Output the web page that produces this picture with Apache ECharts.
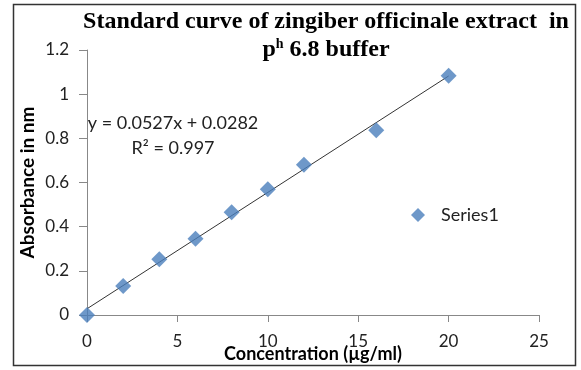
<!DOCTYPE html>
<html>
<head>
<meta charset="utf-8">
<script src="https://cdn.jsdelivr.net/npm/echarts@6/dist/echarts.min.js"></script>
<style>
  html, body { margin: 0; padding: 0; background: #fff; }
  #chart { width: 581px; height: 370px; }
</style>
</head>
<body>
<div id="chart"></div>
<script>
// Concentration (µg/ml) and measured absorbance
const concentrations = [0, 2, 4, 6, 8, 10, 12, 16, 20];
const absorbance = [0, 0.131, 0.253, 0.345, 0.465, 0.569, 0.680, 0.837, 1.083];

// Linear fit y = slope * x + intercept
const slope = 0.0527;
const intercept = 0.0282;
const rSquared = 0.997;
const fitRange = [0, 20];

const xTicks = { min: 0, max: 25, interval: 5 };
const yTicks = { min: 0, max: 1.2, interval: 0.2 };

const points = concentrations.map((c, i) => [c, absorbance[i]]);
const fitLine = fitRange.map(x => [x, slope * x + intercept]);

const labelFont = 'Lato, "Open Sans", sans-serif';
const titleFont = '"Liberation Serif", serif';
const chart = echarts.init(document.getElementById('chart'));

chart.setOption({
  animation: false,
  title: {
    text: 'Standard curve of zingiber officinale extract  in\np{sup|h} 6.8 buffer',
    left: 321,
    top: 3,
    textAlign: 'center',
    textStyle: {
      fontFamily: titleFont,
      fontWeight: 'bold',
      fontSize: 24,
      color: '#000',
      lineHeight: 28,
      rich: {
        sup: {
          fontFamily: titleFont,
          fontWeight: 'bold',
          fontSize: 14,
          color: '#000',
          padding: [0, 0, 12, 0]
        }
      }
    }
  },
  graphic: [
    {
      type: 'rect',
      shape: { x: 13.5, y: 4.5, width: 562, height: 361 },
      style: { fill: 'none', stroke: '#333', lineWidth: 1.5 },
      z: -1
    }
  ],
  legend: {
    data: [{ name: 'Series1', icon: 'diamond' }],
    left: 406,
    top: 201,
    itemWidth: 14,
    itemHeight: 14,
    itemGap: 8,
    textStyle: { fontFamily: labelFont, fontSize: 18, color: '#222', padding: [0, 0, 0, 11] }
  },
  grid: {
    left: 87, right: 42, top: 50, bottom: 55,
    containLabel: false,
    outerBoundsMode: 'none'
  },
  xAxis: {
    type: 'value',
    min: xTicks.min,
    max: xTicks.max,
    interval: xTicks.interval,
    name: 'Concentration (µg/ml)',
    nameLocation: 'middle',
    nameGap: 30,
    nameMoveOverlap: false,
    nameTextStyle: { fontFamily: labelFont, fontWeight: 'bold', fontSize: 18, color: '#000' },
    axisLine: { lineStyle: { color: '#888' } },
    axisTick: { show: true, length: 7, lineStyle: { color: '#888' } },
    axisLabel: { fontFamily: labelFont, fontSize: 17, color: '#222', margin: 18 },
    splitLine: { show: false }
  },
  yAxis: {
    type: 'value',
    min: yTicks.min,
    max: yTicks.max,
    interval: yTicks.interval,
    name: 'Absorbance in nm',
    nameLocation: 'middle',
    nameGap: 50,
    nameMoveOverlap: false,
    nameTextStyle: { fontFamily: labelFont, fontWeight: 'bold', fontSize: 19, color: '#000' },
    axisLine: { show: true, lineStyle: { color: '#888' } },
    axisTick: { show: true, length: 8, lineStyle: { color: '#888' } },
    axisLabel: { fontFamily: labelFont, fontSize: 17, color: '#222', margin: 18 },
    splitLine: { show: false }
  },
  series: [
    {
      name: 'Linear fit',
      type: 'line',
      data: fitLine,
      symbol: 'none',
      lineStyle: { color: '#333', width: 1 },
      silent: true,
      z: 1,
      markPoint: {
        symbol: 'rect',
        symbolSize: 1,
        itemStyle: { color: 'transparent' },
        data: [{
          coord: [4.76, 0.81],
          label: {
            show: true,
            position: 'inside',
            align: 'center',
            verticalAlign: 'middle',
            formatter: 'y = ' + slope + 'x + ' + intercept + '\nR² = ' + rSquared,
            fontFamily: labelFont,
            fontSize: 18,
            lineHeight: 25,
            color: '#222'
          }
        }]
      }
    },
    {
      name: 'Series1',
      type: 'scatter',
      data: points,
      symbol: 'diamond',
      symbolSize: 16,
      itemStyle: { color: '#4a7ebb' },
      z: 3
    }
  ]
});
</script>
</body>
</html>
